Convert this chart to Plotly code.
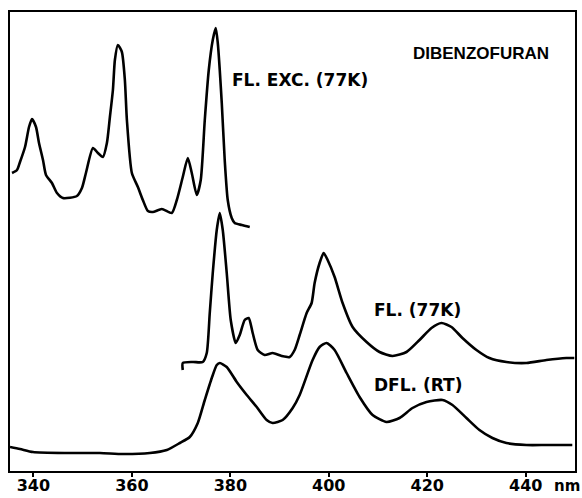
import plotly.graph_objects as go

# Fluorescence excitation spectrum at 77K (top trace)
exc_nm = [335.66, 336.67, 337.28, 338.30, 339.11, 339.72, 340.53, 341.14, 341.95, 342.56,
          343.77, 344.79, 346.00, 348.84, 349.86, 350.67, 352.09, 353.10, 354.12, 354.93,
          355.54, 356.15, 356.55, 357.16, 357.97, 358.58, 358.99, 360.00, 361.22, 362.23,
          363.25, 364.26, 366.09, 368.11, 369.13, 370.34, 371.36, 372.17, 373.18, 373.99,
          374.81, 375.62, 376.43, 377.04, 377.45, 378.26, 378.86, 379.47, 380.28, 380.89,
          382.31, 383.94]
exc_int = [298, 301, 309, 324, 344, 352, 344, 328, 311, 296,
           288, 278, 273, 275, 283, 298, 323, 318, 314, 328,
           354, 381, 411, 426, 419, 391, 351, 298, 284, 271,
           260, 259, 262, 258, 271, 294, 313, 298, 276, 291,
           351, 401, 431, 443, 428, 368, 311, 271, 253, 248,
           246, 244]

# Fluorescence at 77K (middle trace)
fl_nm = [370.34, 370.34, 372.37, 374.40, 375.21, 375.82, 376.43, 377.24, 377.85, 378.46,
         379.27, 380.08, 381.10, 381.91, 382.92, 383.73, 384.54, 385.56, 386.98, 388.60,
         390.43, 392.05, 393.06, 394.08, 395.50, 396.51, 397.12, 398.13, 398.95, 399.76,
         401.18, 402.80, 404.83, 407.67, 410.30, 412.94, 415.78, 418.42, 420.85, 422.88,
         424.91, 427.14, 429.98, 432.62, 436.07, 440.12, 444.18, 448.24, 449.86]
fl_int = [101, 108, 109, 109, 118, 158, 198, 241, 258, 241,
          198, 151, 128, 136, 151, 153, 138, 121, 116, 118,
          115, 114, 121, 136, 158, 168, 188, 208, 218, 211,
          194, 168, 144, 129, 119, 115, 119, 131, 143, 148,
          144, 133, 121, 113, 109, 108, 111, 113, 113]

# Delayed fluorescence at room temperature (bottom trace)
dfl_nm = [335.25, 337.28, 339.92, 346.82, 353.51, 358.17, 363.65, 367.10, 369.74, 371.76,
          373.39, 374.81, 376.23, 377.24, 377.85, 379.27, 381.30, 383.33, 385.36, 387.38,
          388.60, 390.63, 392.66, 394.08, 396.71, 398.13, 399.55, 401.18, 403.61, 406.25,
          408.89, 411.72, 414.36, 417.00, 419.84, 423.08, 425.11, 427.95, 430.59, 433.23,
          436.07, 440.12, 444.18, 449.45]
dfl_int = [24, 22, 19, 18, 18, 17, 18, 21, 28, 34,
           48, 71, 93, 106, 108, 104, 89, 76, 64, 51,
           48, 51, 63, 76, 111, 124, 128, 121, 98, 74,
           56, 49, 53, 63, 69, 71, 66, 53, 41, 33,
           28, 26, 26, 26]

tick_vals = [340, 360, 380, 400, 420, 440]
tick_text = ["<b>340</b>", "<b>360</b>", "<b>380</b>", "<b>400</b>", "<b>420</b>", "<b>440</b>"]

FONT = "DejaVu Sans"
line_style = dict(color="black", width=2.6, shape="spline", smoothing=0.6)

fig = go.Figure()
for xs, ys, nm in [(exc_nm, exc_int, "FL. EXC. (77K)"),
                   (fl_nm, fl_int, "FL. (77K)"),
                   (dfl_nm, dfl_int, "DFL. (RT)")]:
    fig.add_trace(go.Scatter(x=xs, y=ys, mode="lines", line=line_style,
                             name=nm, showlegend=False, hoverinfo="skip"))

fig.update_layout(
    width=582, height=498,
    margin=dict(l=10, r=7, t=12, b=27, autoexpand=False),
    paper_bgcolor="white", plot_bgcolor="white",
    showlegend=False,
)
fig.update_xaxes(
    range=[335.25, 450], tickvals=tick_vals, ticktext=tick_text,
    showgrid=False, zeroline=False, automargin=False,
    showline=True, linecolor="black", linewidth=2, mirror=True,
    ticks="outside", ticklen=4, tickwidth=1.5, tickcolor="black",
    ticklabelstandoff=-5,
    tickfont=dict(family=FONT, size=16, color="black"),
)
fig.update_yaxes(
    range=[0, 459], showticklabels=False, showgrid=False, zeroline=False,
    automargin=False,
    showline=True, linecolor="black", linewidth=2, mirror=True, ticks="",
)

ann_font = dict(family=FONT, size=17, color="black")
fig.add_annotation(x=431.0, y=418, text="<b>DIBENZOFURAN</b>", showarrow=False,
                   font=dict(family="Liberation Sans", size=17, color="black"),
                   xanchor="center", yanchor="middle")
fig.add_annotation(x=379.88, y=391, text="<b>FL. EXC. (77K)</b>", showarrow=False,
                   font=ann_font, xanchor="left", yanchor="middle")
fig.add_annotation(x=408.68, y=161, text="<b>FL. (77K)</b>", showarrow=False,
                   font=ann_font, xanchor="left", yanchor="middle")
fig.add_annotation(x=408.68, y=86, text="<b>DFL. (RT)</b>", showarrow=False,
                   font=ann_font, xanchor="left", yanchor="middle")
fig.add_annotation(x=1.0, xref="paper", xshift=6, y=0, yref="paper", yshift=-5,
                   text="<b>nm</b>", showarrow=False,
                   font=dict(family=FONT, size=15, color="black"),
                   xanchor="right", yanchor="top", borderpad=0)

fig.write_html("out.html")
